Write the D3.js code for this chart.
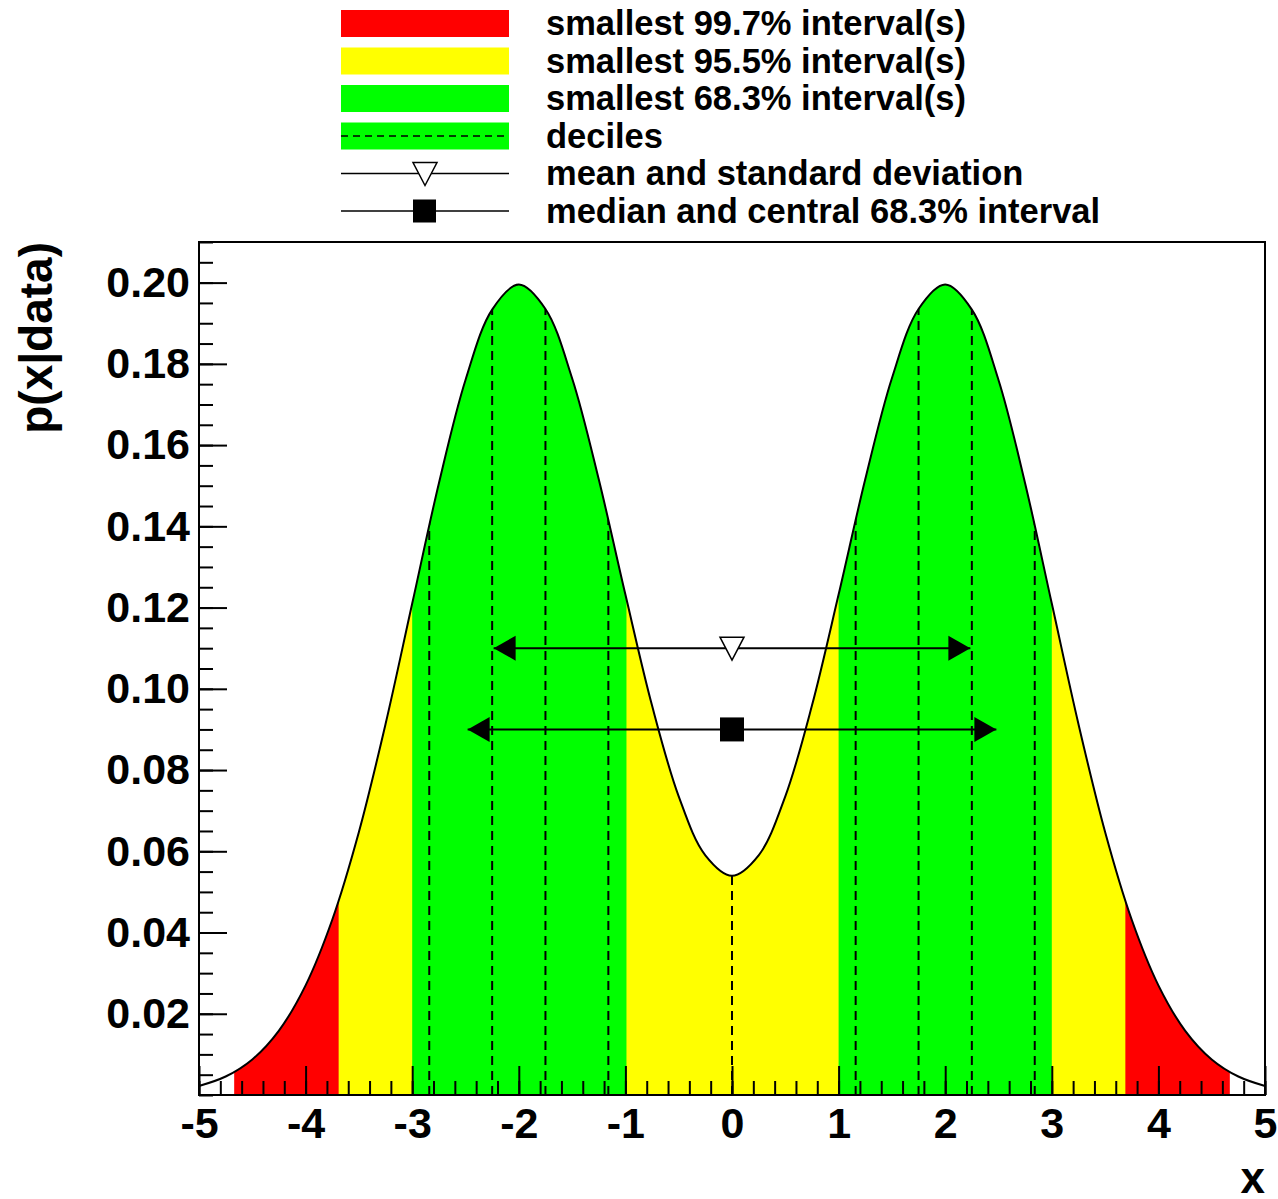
<!DOCTYPE html>
<html>
<head>
<meta charset="utf-8">
<script src="https://cdn.jsdelivr.net/npm/d3@7"></script>
<style>
  body { margin: 0; background: #fff; }
  text { font-family: "Liberation Sans", Arial, sans-serif; }
</style>
</head>
<body>
<div id="graph-container"></div>
<script>
// Posterior values
const xVals = [-5, -4.75, -4.5, -4.25, -4, -3.75, -3.5, -3.25, -3, -2.75, -2.5, -2.25, -2, -1.75, -1.5, -1.25, -1, -0.75, -0.5, -0.25,
  0, 0.25, 0.5, 0.75, 1, 1.25, 1.5, 1.75, 2, 2.25, 2.5, 2.75, 3, 3.25, 3.5, 3.75, 4, 4.25, 4.5, 4.75, 5];
const pVals = [0.00222, 0.00455, 0.00876, 0.01587, 0.02700, 0.04314, 0.06476, 0.09133, 0.12099, 0.15057, 0.17604, 0.19336, 0.19954,
  0.19351, 0.17647, 0.15158, 0.12320, 0.09587, 0.07352, 0.05901, 0.05399, 0.05901, 0.07352, 0.09587, 0.12320, 0.15158, 0.17647,
  0.19351, 0.19954, 0.19336, 0.17604, 0.15057, 0.12099, 0.09133, 0.06476, 0.04314, 0.02700, 0.01587, 0.00876, 0.00455, 0.00222];

// Smallest intervals
const interval997 = [[-4.67, 4.67]];
const interval955 = [[-3.69, 3.69]];
const interval683 = [[-3.0, -0.99], [1.0, 3.0]];
const deciles = [-2.84, -2.25, -1.75, -1.16, 0, 1.16, 1.75, 2.25, 2.84];

// Summary statistics
const meanVal = 0, stdDev = 2.236, meanHeight = 0.11;
const medianVal = 0, central683 = [-2.48, 2.48], medianHeight = 0.09;

const legendLabels = ["smallest 99.7% interval(s)", "smallest 95.5% interval(s)", "smallest 68.3% interval(s)",
  "deciles", "mean and standard deviation", "median and central 68.3% interval"];

const width = 1278, height = 1199;
const plot = { left: 199, right: 1265, top: 242, bottom: 1095 };
const font = "'Liberation Sans', Arial, sans-serif";

const svg = d3.select("#graph-container").append("svg")
  .attr("width", width).attr("height", height);

const x = d3.scaleLinear().domain([-5, 5]).range([plot.left, plot.right]);
const y = d3.scaleLinear().domain([0, 0.21]).range([plot.bottom, plot.top]);

const data = xVals.map((v, i) => ({ x: v, p: pVals[i] }));

const area = d3.area().x(d => x(d.x)).y0(y(0)).y1(d => y(d.p)).curve(d3.curveCatmullRom);
const line = d3.line().x(d => x(d.x)).y(d => y(d.p)).curve(d3.curveCatmullRom);

// clip everything to the region under the curve
svg.append("clipPath").attr("id", "under")
  .append("path").attr("d", area(data));

const under = svg.append("g").attr("clip-path", "url(#under)");

function band(intervals, color) {
  intervals.forEach(iv => {
    under.append("rect")
      .attr("x", x(iv[0])).attr("width", x(iv[1]) - x(iv[0]))
      .attr("y", plot.top).attr("height", plot.bottom - plot.top)
      .attr("fill", color);
  });
}
band(interval997, "#ff0000");
band(interval955, "#ffff00");
band(interval683, "#00ff00");

// decile lines
under.selectAll(".decile").data(deciles).enter().append("line")
  .attr("x1", d => x(d)).attr("x2", d => x(d))
  .attr("y1", plot.bottom).attr("y2", plot.top)
  .attr("stroke", "#000").attr("stroke-width", 2).attr("stroke-dasharray", "9,6");

// curve outline
svg.append("path").attr("d", line(data))
  .attr("fill", "none").attr("stroke", "#000").attr("stroke-width", 2);

// minor ticks
svg.append("g").attr("transform", `translate(0,${plot.bottom})`)
  .call(d3.axisBottom(x).ticks(50).tickSize(-14).tickFormat(""))
  .call(g => g.select(".domain").remove())
  .selectAll("line").attr("stroke-width", 2);
svg.append("g").attr("transform", `translate(${plot.left},0)`)
  .call(d3.axisLeft(y).ticks(42).tickSize(-14).tickFormat(""))
  .call(g => g.select(".domain").remove())
  .selectAll("line").attr("stroke-width", 2);

// major ticks and labels
const xAxis = svg.append("g").attr("transform", `translate(0,${plot.bottom})`)
  .call(d3.axisBottom(x).tickValues(d3.range(-5, 6, 1)).tickSize(-29).tickPadding(12).tickFormat(d => String(d)));
xAxis.select(".domain").remove();
xAxis.selectAll("line").attr("stroke-width", 2);
xAxis.selectAll("text").attr("font-family", font).attr("font-size", 43).attr("font-weight", "bold").attr("fill", "#000");

const yAxis = svg.append("g").attr("transform", `translate(${plot.left},0)`)
  .call(d3.axisLeft(y).tickValues(d3.range(0.02, 0.201, 0.02)).tickSize(-28).tickPadding(9).tickFormat(d3.format(".2f")));
yAxis.select(".domain").remove();
yAxis.selectAll("line").attr("stroke-width", 2);
yAxis.selectAll("text").attr("font-family", font).attr("font-size", 43).attr("font-weight", "bold").attr("fill", "#000");

// frame
svg.append("rect")
  .attr("x", plot.left).attr("y", plot.top)
  .attr("width", plot.right - plot.left).attr("height", plot.bottom - plot.top)
  .attr("fill", "none").attr("stroke", "#000").attr("stroke-width", 2);

// axis titles
svg.append("text")
  .attr("transform", `translate(52,${plot.top}) rotate(-90)`)
  .attr("text-anchor", "end")
  .attr("font-size", 46).attr("font-weight", "bold")
  .text("p(x|data)");
svg.append("text")
  .attr("x", plot.right).attr("y", 1193)
  .attr("text-anchor", "end")
  .attr("font-size", 44).attr("font-weight", "bold")
  .text("x");

// arrow with heads at both ends
function arrow(x0, x1, yv) {
  const yy = y(yv), a = x(x0), b = x(x1);
  svg.append("line").attr("x1", a).attr("x2", b).attr("y1", yy).attr("y2", yy)
    .attr("stroke", "#000").attr("stroke-width", 2);
  svg.append("path").attr("d", `M${a},${yy}L${a + 22},${yy - 12.5}L${a + 22},${yy + 12.5}Z`).attr("fill", "#000");
  svg.append("path").attr("d", `M${b},${yy}L${b - 22},${yy - 12.5}L${b - 22},${yy + 12.5}Z`).attr("fill", "#000");
}
function triangle(cx, cy) {
  return `M${cx - 12},${cy - 11}L${cx + 12},${cy - 11}L${cx},${cy + 12}Z`;
}

arrow(meanVal - stdDev, meanVal + stdDev, meanHeight);
svg.append("path").attr("d", triangle(x(meanVal), y(meanHeight)))
  .attr("fill", "#fff").attr("stroke", "#000").attr("stroke-width", 1.5);

arrow(central683[0], central683[1], medianHeight);
svg.append("rect")
  .attr("x", x(medianVal) - 12).attr("y", y(medianHeight) - 12)
  .attr("width", 24).attr("height", 24).attr("fill", "#000");

// legend
const legend = svg.append("g");
const legendColors = ["#ff0000", "#ffff00", "#00ff00", "#00ff00"];
const rowY = i => 23.5 + i * 37.5;

legendColors.forEach((c, i) => {
  legend.append("rect")
    .attr("x", 341).attr("y", rowY(i) - 13.5)
    .attr("width", 168).attr("height", 27).attr("fill", c);
});
legend.append("line")
  .attr("x1", 341).attr("x2", 509).attr("y1", rowY(3)).attr("y2", rowY(3))
  .attr("stroke", "#000").attr("stroke-width", 1.5).attr("stroke-dasharray", "7,5");

[4, 5].forEach(i => {
  legend.append("line")
    .attr("x1", 341).attr("x2", 509).attr("y1", rowY(i)).attr("y2", rowY(i))
    .attr("stroke", "#000").attr("stroke-width", 1.5);
});
legend.append("path").attr("d", triangle(425, rowY(4)))
  .attr("fill", "#fff").attr("stroke", "#000").attr("stroke-width", 1.5);
legend.append("rect")
  .attr("x", 413).attr("y", rowY(5) - 11.5).attr("width", 23).attr("height", 23).attr("fill", "#000");

legend.selectAll(".legend-label").data(legendLabels).enter().append("text")
  .attr("class", "legend-label")
  .attr("x", 546).attr("y", (d, i) => rowY(i) + 11.5)
  .attr("font-size", 34.5).attr("font-weight", "bold")
  .text(d => d);
</script>
</body>
</html>
